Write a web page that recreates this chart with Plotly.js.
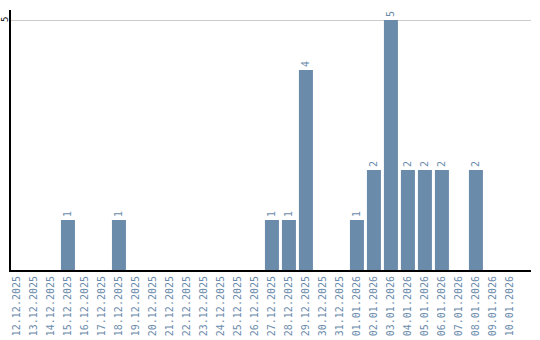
<!DOCTYPE html>
<html><head><meta charset="utf-8">
<script src="https://cdn.plot.ly/plotly-3.0.1.min.js"></script>
<style>html,body{margin:0;padding:0;background:#fff}#c{width:540px;height:340px}</style>
</head><body><div id="c"></div>
<script>
const dates = ["12.12.2025","13.12.2025","14.12.2025","15.12.2025","16.12.2025","17.12.2025","18.12.2025","19.12.2025","20.12.2025","21.12.2025","22.12.2025","23.12.2025","24.12.2025","25.12.2025","26.12.2025","27.12.2025","28.12.2025","29.12.2025","30.12.2025","31.12.2025","01.01.2026","02.01.2026","03.01.2026","04.01.2026","05.01.2026","06.01.2026","07.01.2026","08.01.2026","09.01.2026","10.01.2026"];
const counts = [0,0,0,1,0,0,1,0,0,0,0,0,0,0,0,1,1,4,0,0,1,2,5,2,2,2,0,2,0,0];
const yTicks = [5];

const labels = counts.map(v => v > 0 ? String(v) : "");
const clr = "#6b8bab";
Plotly.newPlot("c", [{
  type: "bar",
  x: dates.map((d,i)=>i),
  y: counts,
  text: labels,
  textposition: "outside",
  textangle: -90,
  cliponaxis: false,
  textfont: {family: "DejaVu Sans Mono", size: 10, color: clr},
  marker: {color: clr},
  hoverinfo: "none"
}], {
  width: 540, height: 340,
  margin: {l: 11, r: 9, t: 10, b: 70},
  paper_bgcolor: "#fff", plot_bgcolor: "#fff",
  showlegend: false,
  bargap: 0.176,
  xaxis: {
    range: [-0.35, 30.24],
    tickvals: dates.map((d,i)=>i),
    ticktext: dates,
    tickangle: -90,
    tickfont: {family: "DejaVu Sans Mono", size: 10, color: clr},
    showgrid: false, zeroline: false,
    showline: true, linecolor: "#000", linewidth: 2,
    ticks: "", ticklen: 0
  },
  yaxis: {
    range: [0, 5.2],
    tickvals: yTicks,
    showticklabels: false,
    showgrid: true, gridcolor: "#cccccc", gridwidth: 1,
    zeroline: false,
    showline: true, linecolor: "#000", linewidth: 2,
    ticks: "", ticklen: 0
  },
  annotations: yTicks.map(v => ({
    xref: "paper", yref: "y",
    x: -0.0115, y: v,
    text: String(v),
    textangle: -90,
    showarrow: false,
    xanchor: "center", yanchor: "middle",
    font: {family: "DejaVu Sans Mono", size: 9, color: "#000"}
  }))
}, {staticPlot: true, displayModeBar: false});
</script></body></html>
